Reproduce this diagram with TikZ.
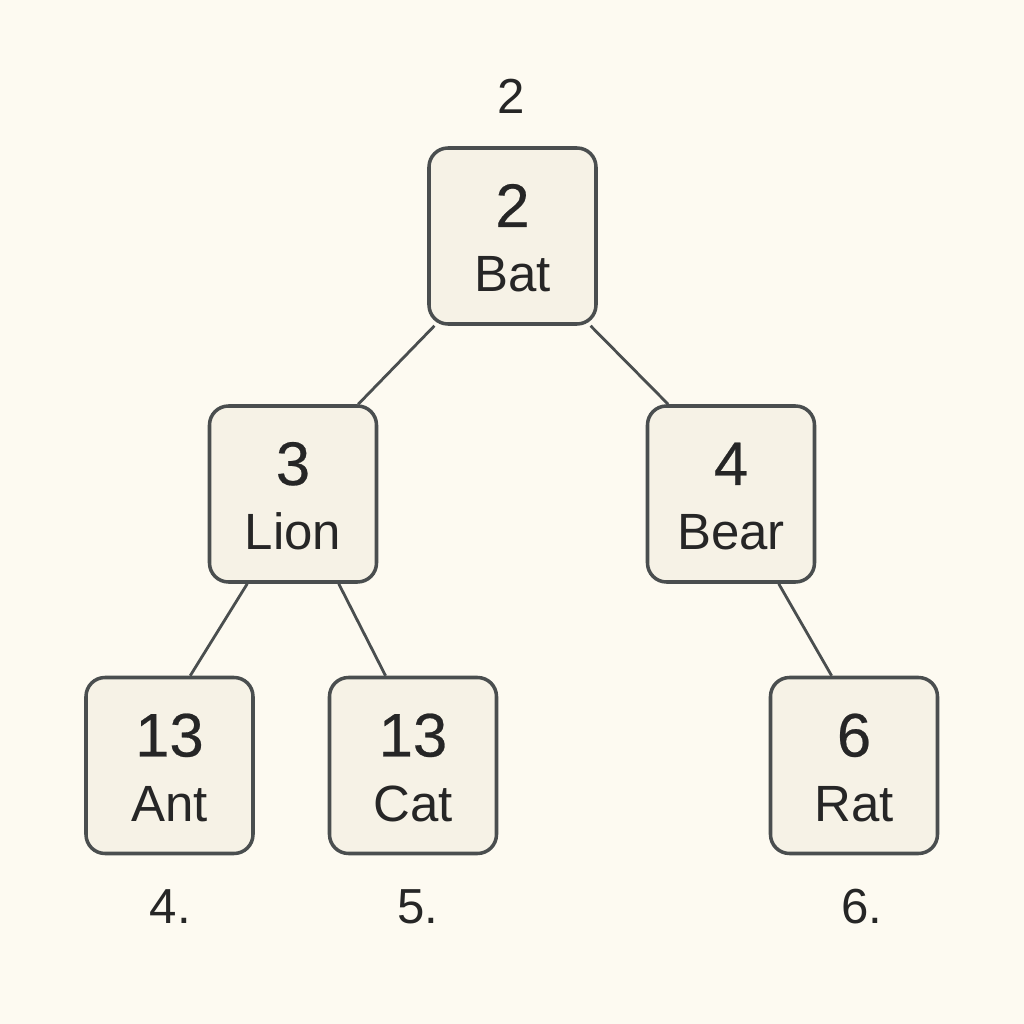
\documentclass[tikz,border=0pt]{standalone}
\usepackage{fontspec}
\setmainfont{Liberation Sans}
\usetikzlibrary{positioning}

\definecolor{paper}{HTML}{FDFAF1}
\definecolor{boxfill}{HTML}{F6F2E6}
\definecolor{edge}{HTML}{4A4E4F}
\definecolor{ink}{HTML}{262626}

% number on top, name below, both centred on the node centre
\newcommand\nodetext[2]{%
	\makebox[0pt]{\raisebox{0.09cm}[0pt][0pt]{\fontsize{17.5}{20}\selectfont\addfontfeatures{FakeBold=0.4}#1}}%
	\makebox[0pt]{\raisebox{-0.56cm}[0pt][0pt]{\fontsize{14.5}{17}\selectfont #2}}}

\begin{document}
\begin{tikzpicture}[
		animal/.style={
			draw=edge,
			fill=boxfill,
			text=ink,
			line width=1pt,
			rounded corners=0.19cm,
			minimum width=1.67cm,
			minimum height=1.76cm,
			inner sep=0
		},
		tag/.style={
			text=ink,
			font=\fontsize{14}{17}\selectfont,
			anchor=base
		},
		link/.style={
			draw=edge,
			line width=0.8pt
		}
		]
		\fill[paper] (0,0) rectangle (10.24,10.24);
		% Boxes
		\node[animal] (bat) at (5.125,7.88) {\nodetext{2}{Bat}};
		\node[animal] (lion) at (2.93,5.30) {\nodetext{3}{Lion}};
		\node[animal] (bear) at (7.31,5.30) {\nodetext{4}{Bear}};
		\node[animal] (ant) at (1.695,2.585) {\nodetext{13}{Ant}};
		\node[animal] (cat) at (4.13,2.585) {\nodetext{13}{Cat}};
		\node[animal] (rat) at (8.54,2.585) {\nodetext{6}{Rat}};
		% Tags
		\node[tag] (bat-tag) at ([xshift=-0.01cm,yshift=0.33cm]bat.north) {2};
		\node[tag] (ant-tag) at ([xshift=0.01cm,yshift=-0.68cm]ant.south) {4.};
		\node[tag] (cat-tag) at ([xshift=0.05cm,yshift=-0.68cm]cat.south) {5.};
		\node[tag] (rat-tag) at ([xshift=0.08cm,yshift=-0.68cm]rat.south) {6.};
		% Edges
		\draw[link] (bat.229) -- (lion.54);
		\draw[link] (bat.311) -- (bear.125);
		\draw[link] (lion.243) -- (ant.77);
		\draw[link] (lion.297) -- (cat.107);
		\draw[link] (bear.298) -- (rat.104);
\end{tikzpicture}
\end{document}
